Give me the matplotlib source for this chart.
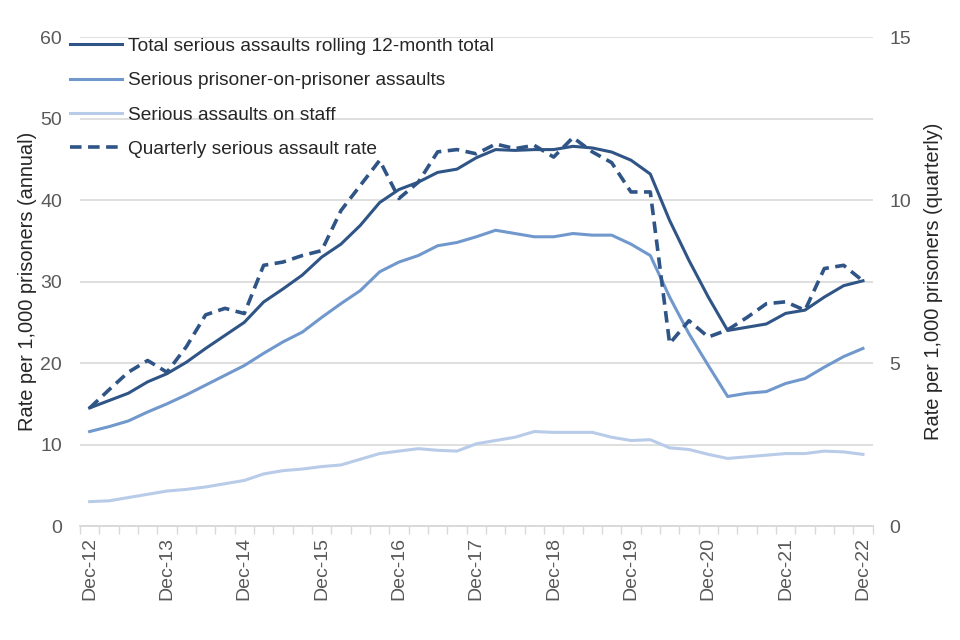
import matplotlib
matplotlib.use("Agg")
from matplotlib import pyplot as plt

plt.rcParams['font.family'] = ['Liberation Sans', 'DejaVu Sans']

YEARS = ["Dec-12", "Dec-13", "Dec-14", "Dec-15", "Dec-16", "Dec-17",
         "Dec-18", "Dec-19", "Dec-20", "Dec-21", "Dec-22"]

# quarterly points, Dec-12 .. Dec-22 (41 quarters)
total = [14.5, 15.4, 16.3, 17.7, 18.7, 20.1, 21.8, 23.4, 25.0, 27.5,
         29.1, 30.8, 33.0, 34.6, 36.9, 39.7, 41.3, 42.2, 43.4, 43.8,
         45.2, 46.2, 46.1, 46.2, 46.2, 46.6, 46.4, 45.9, 44.9, 43.2,
         37.5, 32.6, 28.1, 24.0, 24.4, 24.8, 26.1, 26.5, 28.1, 29.5,
         30.1]
prisoner = [11.6, 12.2, 12.9, 14.0, 15.0, 16.1, 17.3, 18.5, 19.7, 21.2,
            22.6, 23.8, 25.6, 27.3, 28.9, 31.2, 32.4, 33.2, 34.4, 34.8,
            35.5, 36.3, 35.9, 35.5, 35.5, 35.9, 35.7, 35.7, 34.6, 33.2,
            28.1, 23.6, 19.7, 15.9, 16.3, 16.5, 17.5, 18.1, 19.5, 20.8,
            21.8]
staff = [3.0, 3.1, 3.5, 3.9, 4.3, 4.5, 4.8, 5.2, 5.6, 6.4,
         6.8, 7.0, 7.3, 7.5, 8.2, 8.9, 9.2, 9.5, 9.3, 9.2,
         10.1, 10.5, 10.9, 11.6, 11.5, 11.5, 11.5, 10.9, 10.5, 10.6,
         9.6, 9.4, 8.8, 8.3, 8.5, 8.7, 8.9, 8.9, 9.2, 9.1,
         8.8]
quarterly = [3.62, 4.18, 4.72, 5.08, 4.72, 5.50, 6.48, 6.68, 6.52, 8.00,
             8.10, 8.30, 8.45, 9.68, 10.45, 11.22, 10.05, 10.55, 11.48, 11.55,
             11.42, 11.72, 11.58, 11.68, 11.32, 11.92, 11.48, 11.15, 10.25, 10.25,
             5.60, 6.30, 5.80, 6.02, 6.40, 6.82, 6.88, 6.62, 7.90, 8.00,
             7.52]

DARK = "#2f5486"
MID = "#7098cc"
LIGHT = "#b8cbe8"
GREY = "#595959"
FS = 14


def main():
    fig = plt.figure(figsize=(9.6, 6.4), dpi=100)
    ax = fig.add_axes([0.0833, 0.178, 0.8257, 0.764])
    ax2 = ax.twinx()

    x = list(range(len(total)))
    l1, = ax.plot(x, total, color=DARK, lw=2.2, label="Total serious assaults rolling 12-month total")
    l2, = ax.plot(x, prisoner, color=MID, lw=2.2, label="Serious prisoner-on-prisoner assaults")
    l3, = ax.plot(x, staff, color=LIGHT, lw=2.2, label="Serious assaults on staff")
    l4, = ax2.plot(x, quarterly, color=DARK, lw=2.6, ls=(0, (3.2, 1.8)),
                   label="Quarterly serious assault rate")

    ax.set_xlim(-0.5, len(total) - 0.5)
    ax.set_ylim(0, 60)
    ax2.set_ylim(0, 15)
    ax.set_yticks(range(0, 61, 10))
    ax2.set_yticks(range(0, 16, 5))

    ax.set_xticks(range(0, len(total), 4))
    ax.set_xticklabels(YEARS, rotation=90)
    ax.set_xticks([i - 0.5 for i in range(len(total) + 1)], minor=True)
    ax.tick_params(axis="x", which="major", length=0, pad=8, labelsize=FS, labelcolor=GREY)
    ax.tick_params(axis="x", which="minor", length=6, color="#d9d9d9", width=1)
    ax.tick_params(axis="y", length=0, pad=13, labelsize=FS, labelcolor=GREY)
    ax2.tick_params(axis="y", length=0, pad=12, labelsize=FS, labelcolor=GREY)

    ax.grid(axis="y", color="#d9d9d9", lw=1.2)
    ax.set_axisbelow(True)
    for a in (ax, ax2):
        for s in ("top", "left", "right"):
            a.spines[s].set_visible(False)
        a.spines["bottom"].set_color("#d9d9d9")
        a.spines["bottom"].set_linewidth(1.2)

    ax.set_ylabel("Rate per 1,000 prisoners (annual)", fontsize=14.4, color="#262626", labelpad=2)
    ax2.set_ylabel("Rate per 1,000 prisoners (quarterly)", fontsize=14.4, color="#262626", labelpad=9)

    fig.legend(handles=[l1, l2, l3, l4], loc="upper left", bbox_to_anchor=(0.055, 0.968),
               frameon=False, fontsize=13.8, handlelength=2.7, handletextpad=0.32,
               labelspacing=0.88, labelcolor="#262626")

    fig.savefig("out.png", dpi=100)


if __name__ == '__main__':
    main()
